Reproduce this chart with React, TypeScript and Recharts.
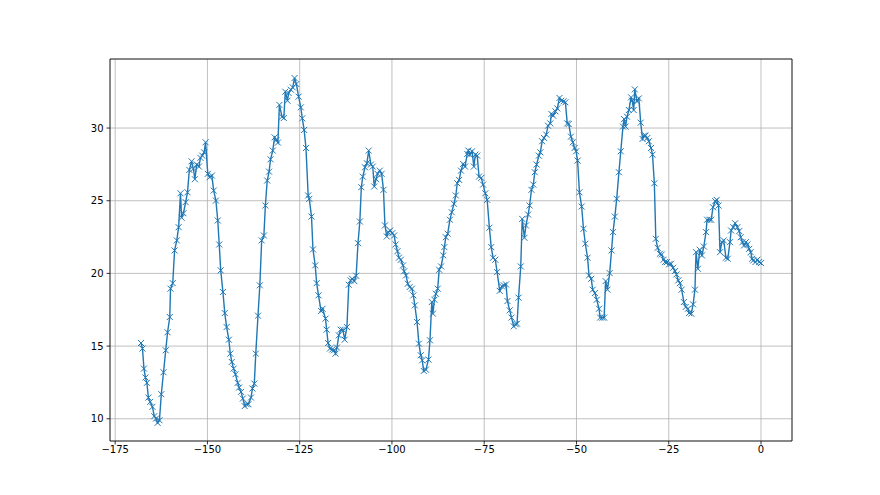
import { LineChart, Line, XAxis, YAxis, CartesianGrid } from 'recharts'

// hours before now
const HOURS = [
  -168.0, -167.6, -167.2, -166.8, -166.4, -166.0, -165.5, -164.9, -164.4, -163.9,
  -163.5, -163.0, -162.5, -161.9, -161.3, -160.8, -160.2, -160.0, -159.4, -158.9,
  -158.3, -157.8, -157.3, -157.0, -156.5, -155.9, -155.4, -154.9, -154.3, -153.8,
  -153.4, -152.9, -152.3, -151.9, -151.4, -150.9, -150.5, -149.9, -149.4, -148.8,
  -148.3, -147.7, -147.2, -146.8, -146.4, -145.8, -145.3, -144.8, -144.2, -143.8,
  -143.4, -142.9, -142.4, -141.8, -141.4, -140.9, -140.4, -139.9, -139.4, -138.9,
  -138.2, -137.8, -137.3, -136.9, -136.3, -135.8, -135.3, -134.7, -134.3, -133.8,
  -133.3, -132.9, -132.3, -131.8, -131.3, -130.9, -130.5, -129.8, -129.3, -128.9,
  -128.3, -128.0, -127.4, -126.9, -126.4, -125.9, -125.3, -124.7, -124.3, -123.8,
  -123.3, -122.7, -122.4, -121.8, -121.4, -120.8, -120.4, -119.9, -119.2, -118.8,
  -118.0, -117.7, -117.3, -116.8, -116.2, -115.7, -115.3, -114.9, -114.4, -113.9,
  -113.3, -112.8, -112.2, -111.7, -111.2, -110.8, -110.2, -109.7, -109.2, -108.7,
  -108.3, -107.9, -107.3, -106.8, -106.3, -105.7, -105.2, -104.8, -104.3, -103.9,
  -103.3, -102.8, -102.3, -101.9, -101.4, -101.0, -100.5, -99.9, -99.4, -99.0,
  -98.5, -98.1, -97.6, -97.0, -96.7, -96.2, -95.7, -95.2, -94.6, -94.2,
  -93.8, -93.2, -92.7, -92.2, -91.8, -91.4, -90.8, -90.1, -89.7, -89.2,
  -88.9, -88.5, -88.1, -87.6, -87.2, -86.7, -86.1, -85.8, -85.4, -84.9,
  -84.3, -83.8, -83.2, -82.7, -82.3, -81.8, -81.3, -80.7, -80.2, -79.6,
  -79.3, -78.9, -78.3, -77.8, -77.4, -76.9, -76.4, -75.8, -75.3, -74.7,
  -74.2, -73.6, -73.1, -72.6, -72.0, -71.5, -70.8, -70.2, -69.7, -69.1,
  -68.7, -68.1, -67.6, -67.0, -66.5, -66.1, -65.7, -65.1, -64.7, -64.1,
  -63.7, -63.1, -62.7, -62.2, -61.7, -61.3, -60.8, -60.2, -59.8, -59.3,
  -58.8, -58.2, -57.7, -57.1, -56.8, -56.3, -55.7, -55.2, -54.6, -54.1,
  -53.5, -53.0, -52.5, -52.1, -51.5, -51.0, -50.5, -50.1, -49.7, -49.2,
  -48.6, -48.1, -47.6, -47.0, -46.6, -46.0, -45.6, -45.0, -44.5, -43.9,
  -43.6, -43.0, -42.5, -42.1, -41.6, -41.0, -40.5, -40.1, -39.6, -39.1,
  -38.5, -38.0, -37.4, -37.1, -36.7, -36.3, -35.8, -35.2, -34.9, -34.5,
  -34.2, -33.6, -33.1, -32.6, -32.1, -31.7, -31.3, -30.8, -30.4, -29.8,
  -29.4, -28.9, -28.5, -28.0, -27.4, -26.9, -26.4, -26.0, -25.5, -24.9,
  -24.4, -23.8, -23.3, -22.9, -22.4, -22.0, -21.5, -20.9, -20.4, -19.8,
  -19.5, -18.9, -18.4, -17.9, -17.6, -17.1, -16.6, -16.0, -15.5, -14.9,
  -14.6, -14.0, -13.5, -13.0, -12.4, -12.0, -11.5, -11.1, -10.6, -10.1,
  -9.5, -9.0, -8.4, -8.1, -7.5, -7.0, -6.4, -5.9, -5.5, -5.0,
  -4.6, -4.1, -3.7, -3.2, -2.8, -2.4, -2.1, -1.5, -1.0, -0.5,
  0.0,
]

const TEMPS = [
  15.21, 14.83, 13.45, 12.84, 12.47, 11.46, 11.16, 10.82, 10.18, 10.02,
  9.72, 9.9, 11.69, 13.2, 14.71, 15.95, 17.0, 18.95, 19.33, 21.58,
  22.27, 23.18, 25.51, 23.83, 24.14, 24.9, 25.58, 27.12, 27.71, 27.19,
  26.48, 27.49, 27.35, 27.95, 28.1, 28.33, 29.02, 26.85, 26.62, 26.73,
  25.7, 25.01, 23.64, 21.99, 20.21, 18.72, 17.27, 16.31, 15.44, 14.48,
  13.91, 13.45, 13.06, 12.47, 12.15, 11.85, 11.39, 10.87, 11.0, 11.0,
  11.46, 12.08, 12.42, 14.48, 17.09, 19.18, 22.27, 22.61, 24.67, 26.39,
  27.0, 27.85, 28.45, 29.36, 29.18, 29.0, 31.59, 30.78, 30.69, 32.5,
  31.88, 32.41, 32.64, 32.8, 33.44, 33.03, 32.16, 31.42, 30.67, 29.87,
  28.63, 25.36, 25.13, 23.91, 21.65, 20.55, 19.33, 18.49, 17.41, 17.57,
  16.89, 16.13, 15.21, 14.83, 14.76, 14.71, 14.48, 14.9, 15.74, 16.13,
  16.13, 15.44, 16.31, 19.22, 19.52, 19.63, 19.47, 19.84, 22.08, 23.57,
  25.93, 26.66, 27.3, 27.58, 28.45, 27.49, 27.35, 25.98, 26.48, 26.85,
  27.07, 26.85, 25.75, 23.3, 22.54, 22.84, 22.95, 22.77, 22.61, 21.99,
  21.53, 21.08, 20.94, 20.55, 20.14, 19.86, 19.29, 19.06, 18.95, 18.49,
  17.8, 16.66, 15.17, 14.37, 14.02, 13.29, 13.38, 14.07, 15.4, 18.03,
  17.23, 18.19, 18.6, 18.95, 20.25, 20.48, 21.24, 21.81, 22.49, 22.73,
  23.69, 24.21, 24.79, 25.36, 26.2, 26.43, 27.07, 27.53, 27.35, 28.22,
  28.45, 28.17, 28.4, 27.35, 28.17, 28.1, 26.66, 26.57, 26.11, 25.51,
  25.06, 23.14, 21.81, 21.08, 20.94, 20.09, 18.8, 19.11, 19.18, 19.24,
  18.1, 17.46, 16.96, 16.36, 16.5, 16.54, 18.33, 20.48, 23.75, 22.45,
  23.3, 24.05, 24.67, 25.75, 26.11, 26.96, 27.49, 28.1, 28.33, 29.09,
  29.32, 29.55, 30.16, 30.32, 30.97, 30.85, 31.15, 31.35, 32.07, 31.88,
  31.84, 31.77, 30.32, 30.28, 29.41, 29.02, 28.63, 28.4, 27.76, 25.58,
  24.6, 23.07, 22.04, 21.08, 19.86, 19.63, 18.88, 18.65, 18.19, 17.57,
  16.96, 16.96, 16.96, 19.47, 18.88, 20.02, 21.58, 22.84, 23.91, 25.13,
  26.96, 28.4, 30.1, 30.62, 30.1, 30.78, 31.24, 32.11, 31.88, 31.24,
  32.66, 31.84, 32.04, 30.37, 29.25, 29.48, 29.48, 29.32, 29.09, 28.63,
  28.17, 26.2, 22.38, 21.76, 21.35, 21.3, 20.94, 20.78, 20.78, 20.62,
  20.66, 20.39, 20.16, 19.93, 19.52, 19.33, 18.88, 18.03, 17.69, 17.57,
  17.27, 17.23, 17.87, 18.88, 21.46, 20.32, 21.63, 21.24, 21.85, 22.84,
  23.69, 23.69, 23.69, 24.55, 24.97, 25.06, 24.67, 21.46, 22.15, 22.27,
  21.08, 21.01, 22.15, 22.95, 23.18, 23.45, 23.18, 22.91, 22.49, 22.15,
  21.92, 22.15, 21.99, 21.69, 21.46, 21.01, 20.89, 20.78, 20.94, 20.78,
  20.71,
]

const X_TICKS = [-175, -150, -125, -100, -75, -50, -25, 0]
const Y_TICKS = [10, 15, 20, 25, 30]

const data = HOURS.map((x, i) => ({ x, y: TEMPS[i] }))

const BLUE = '#1f77b4'
const fmt = (v: number) => String(v).replace('-', '\u2212')
const tickStyle = { fontSize: 10, fill: '#000', fontFamily: 'DejaVu Sans' }

const XMarker = (props: any) => {
  const { cx, cy, index } = props
  if (cx == null || cy == null) return null
  const s = 3
  return (
    <path
      key={index}
      d={`M${cx - s},${cy - s}L${cx + s},${cy + s}M${cx - s},${cy + s}L${cx + s},${cy - s}`}
      stroke={BLUE}
      strokeWidth={1}
      fill="none"
    />
  )
}

export default function App() {
  return (
    <div style={{ margin: -8, width: 880, height: 495, background: '#fff' }}>
      <LineChart
        width={880}
        height={495}
        data={data}
        margin={{ top: 58, right: 87, bottom: 24, left: 70 }}
      >
        <CartesianGrid stroke="#b0b0b0" strokeWidth={0.8} />
        <XAxis
          dataKey="x"
          type="number"
          domain={[-176.4, 8.4]}
          ticks={X_TICKS}
          tickFormatter={fmt}
          tick={tickStyle}
          tickSize={3.5}
          tickMargin={1.5}
          height={30}
          stroke="#000"
          strokeWidth={0.8}
          allowDataOverflow
        />
        <XAxis
          xAxisId="top"
          orientation="top"
          dataKey="x"
          type="number"
          domain={[-176.4, 8.4]}
          ticks={X_TICKS}
          tick={false}
          tickLine={false}
          height={1}
          stroke="#000"
          strokeWidth={0.8}
          allowDataOverflow
        />
        <YAxis
          type="number"
          domain={[8.47, 34.75]}
          ticks={Y_TICKS}
          tick={tickStyle}
          tickSize={3.5}
          tickMargin={3}
          width={40}
          stroke="#000"
          strokeWidth={0.8}
          allowDataOverflow
        />
        <YAxis
          yAxisId="right"
          orientation="right"
          type="number"
          domain={[8.47, 34.75]}
          ticks={Y_TICKS}
          tick={false}
          tickLine={false}
          width={1}
          stroke="#000"
          strokeWidth={0.8}
          allowDataOverflow
        />
        <Line
          type="linear"
          dataKey="y"
          stroke={BLUE}
          strokeWidth={1.4}
          dot={XMarker}
          activeDot={false}
          isAnimationActive={false}
        />
      </LineChart>
    </div>
  )
}
